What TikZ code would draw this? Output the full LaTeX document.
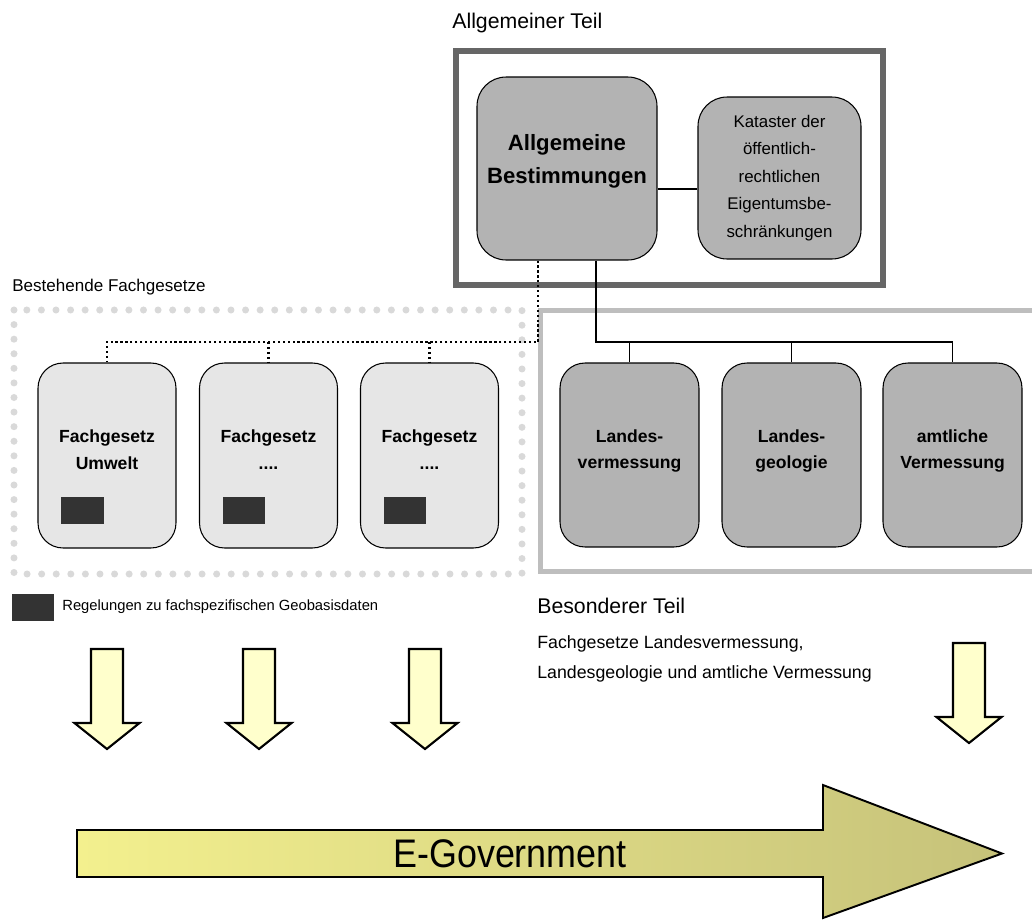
\documentclass[tikz,border=0pt]{standalone}
\usepackage{fontspec}
\setmainfont{Liberation Sans}
\newfontfamily\narrowfont{Liberation Sans}[FakeStretch=0.9]
\definecolor{framedark}{HTML}{666666}
\definecolor{framelight}{HTML}{BEBEBE}
\definecolor{boxgrey}{HTML}{B3B3B3}
\definecolor{boxlight}{HTML}{E6E6E6}
\definecolor{geodark}{HTML}{333333}
\definecolor{dotgrey}{HTML}{D9D9D9}
\definecolor{arrowyellow}{HTML}{FFFFCC}
\definecolor{govleft}{HTML}{F3F08E}
\definecolor{govright}{HTML}{C6C27A}
\tikzset{box/.style={draw, line width=0.6pt, rounded corners=0.5cm, inner sep=0pt}}
\tikzset{box-text/.style={align=center, inner sep=0pt, font=\bfseries\fontsize{10}{15.3}\selectfont}}
\tikzset{main-box/.style={box, fill=boxgrey, rounded corners=0.58cm, minimum width=3.6cm, minimum height=3.66cm,
  label={[box-text, font=\bfseries\fontsize{12.6}{18.7}\selectfont, yshift=0.14cm]center:#1}}}
\tikzset{law-box/.style={box, fill=boxlight, minimum width=2.76cm, minimum height=3.7cm,
  label={[box-text, yshift=0.12cm]center:#1}}}
\tikzset{state-box/.style={box, fill=boxgrey, minimum width=2.78cm, minimum height=3.68cm,
  label={[box-text, yshift=0.08cm]center:#1}}}
\tikzset{geo-mark/.style={fill=geodark, minimum width=0.86cm, minimum height=0.54cm, inner sep=0pt}}
\tikzset{title/.style={anchor=base west, inner sep=0pt, font=\fontsize{12.1}{14}\selectfont}}
\tikzset{link/.style={line width=1.1pt}}
\tikzset{dot-link/.style={line width=1.3pt, dash pattern=on 1.3pt off 1.5pt}}
\tikzset{down-arrow/.style={draw, line width=1.2pt, fill=arrowyellow, line join=miter}}

\begin{document}
\begin{tikzpicture}[x=0.02cm, y=-0.02cm]
  \useasboundingbox (0,0) rectangle (1032,920);

  % Allgemeiner Teil
  \draw[framedark, line width=3.4pt] (456,51) rectangle (883,285);
  \node[title] (t-allg) at (452,28) {Allgemeiner Teil};
  \node[main-box={Allgemeine\\Bestimmungen}] (allg) at (567,168.5) {};
  \node[box, fill=boxgrey, rounded corners=0.58cm, minimum width=3.26cm, minimum height=3.24cm,
        align=center, font=\fontsize{9.6}{15.6}\selectfont] (kataster) at (779.5,178)
        {Kataster der\\öffentlich-\\rechtlichen\\Eigentumsbe-\\schränkungen};
  \draw[link] (allg.east |- 0,189) -- (kataster.west |- 0,189);

  % Bestehende Fachgesetze
  \draw[dotgrey, line width=4pt, line cap=round, dash pattern=on 0pt off 8.3pt] (14,310) rectangle (522,574);
  \node[title, font=\fontsize{9.7}{12}\selectfont] (t-best) at (12,291) {Bestehende Fachgesetze};
  \node[law-box={Fachgesetz\\Umwelt}] (fg1) at (107,455.5) {};
  \node[law-box={Fachgesetz\\....}] (fg2) at (268.5,455.5) {};
  \node[law-box={Fachgesetz\\....}] (fg3) at (429.5,455.5) {};
  \foreach \n in {fg1, fg2, fg3}
    \node[geo-mark] (\n-geo) at ([shift={(-24.5,55)}]\n.center) {};

  % Besonderer Teil
  \draw[framelight, line width=2.8pt] (1040,310.5) -- (540.5,310.5) -- (540.5,571.5) -- (1040,571.5);
  \node[state-box={Landes-\\vermessung}] (lv) at (629.5,455) {};
  \node[state-box={Landes-\\geologie}] (lg) at (791.5,455) {};
  \node[state-box={amtliche\\Vermessung}] (av) at (952.5,455) {};
  \node[title] (t-bes) at (537,613) {Besonderer Teil};
  \node[anchor=north west, inner sep=0pt, align=left, font=\fontsize{10.1}{17}\selectfont] (t-bes-sub) at (537,635)
    {Fachgesetze Landesvermessung,\\Landesgeologie und amtliche Vermessung};

  % Verbindungen
  \coordinate (bus) at (0,342);
  \draw[link] (allg.south -| 596,0) |- (bus -| av.north) -- (av.north);
  \foreach \n in {lv, lg}
    \draw[link] (bus -| \n.north) -- (\n.north);
  \draw[dot-link] (allg.south -| 538,0) |- (bus -| fg1.north) -- (fg1.north);
  \foreach \n in {fg2, fg3}
    \draw[dot-link] (bus -| \n.north) -- (\n.north);

  % Legende
  \node[geo-mark, minimum width=0.84cm] (legend-mark) at (33,607.5) {};
  \node[anchor=west, inner sep=0pt, font=\fontsize{8.4}{10}\selectfont] (legend-text) at (62,607)
    {Regelungen zu fachspezifischen Geobasisdaten};

  % Pfeile
  \foreach \x/\y in {107/649, 259/649, 425/649, 969/643}
    \draw[down-arrow] (\x-16,\y) -- (\x+16,\y) -- (\x+16,\y+74) -- (\x+32.5,\y+74)
      -- (\x,\y+100) -- (\x-32.5,\y+74) -- (\x-16,\y+74) -- cycle;
  \draw[line width=1.1pt, left color=govleft, right color=govright, line join=miter]
    (77,830) -- (823,830) -- (823,785) -- (1002,853.5) -- (823,918) -- (823,877) -- (77,877) -- cycle;
  \node[inner sep=0pt, font=\narrowfont\fontsize{22.7}{26}\selectfont] (egov) at (510,854) {E-Government};
\end{tikzpicture}
\end{document}
